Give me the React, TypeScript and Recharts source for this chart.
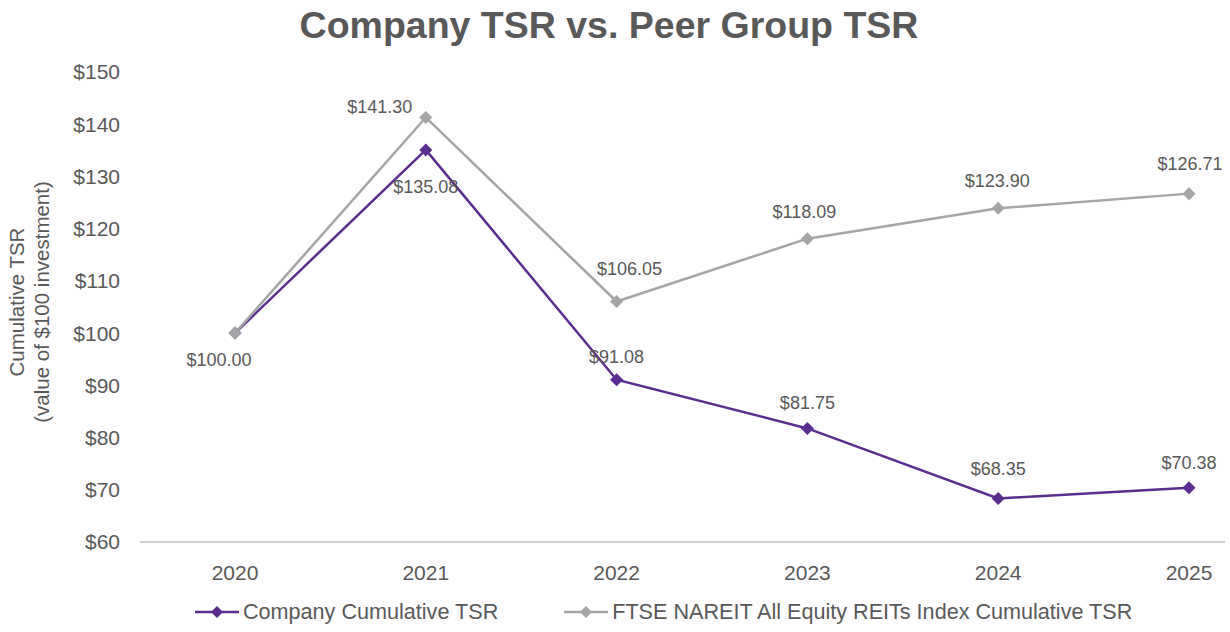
import { LineChart, Line, XAxis, YAxis, Legend, LabelList } from 'recharts'

const years = ['2020', '2021', '2022', '2023', '2024', '2025']
const companyTsr = [100.0, 135.08, 91.08, 81.75, 68.35, 70.38]
const peerTsr = [100.0, 141.3, 106.05, 118.09, 123.9, 126.71]
const yTicks = [60, 70, 80, 90, 100, 110, 120, 130, 140, 150]

const COLORS = {
  company: '#5b2d90', // purple
  peer: '#a5a5a5', // gray
  text: '#595959',
  axis: '#bfbfbf',
}

const FONT = '"Liberation Sans", Arial, sans-serif'

const data = years.map((year, i) => ({
  year,
  company: companyTsr[i],
  peer: peerTsr[i],
}))

// label offsets per point, tuned to the original layout
const companyOffsets = [
  [-16, 27],
  [0, 37],
  [0, -23],
  [0, -25],
  [0, -29],
  [0, -25],
]
const peerOffsets = [
  null,
  [-46, -10],
  [13, -33],
  [-3, -27],
  [-1, -27],
  [1, -30],
]

function diamond(color: string) {
  return (props: any) => {
    const { cx, cy, index } = props
    if (cx == null || cy == null) return <g key={`d-${index}`} />
    const r = 6.5
    return (
      <path
        key={`d-${index}`}
        d={`M${cx},${cy - r} L${cx + r},${cy} L${cx},${cy + r} L${cx - r},${cy} Z`}
        fill={color}
      />
    )
  }
}

function makeLabel(offsets: (number[] | null)[]) {
  return (props: any) => {
    const { x, y, value, index } = props
    const off = offsets[index]
    if (!off) return null
    return (
      <text
        x={x + off[0]}
        y={y + off[1]}
        textAnchor="middle"
        dominantBaseline="central"
        fill={COLORS.text}
        fontSize={18}
        fontFamily={FONT}
      >
        ${Number(value).toFixed(2)}
      </text>
    )
  }
}

function YLabel() {
  const cy = 302
  return (
    <g>
      <text
        transform={`translate(16, ${cy}) rotate(-90)`}
        textAnchor="middle"
        dominantBaseline="central"
        fill={COLORS.text}
        fontSize={20.5}
        fontFamily={FONT}
      >
        Cumulative TSR
      </text>
      <text
        transform={`translate(41, ${cy}) rotate(-90)`}
        textAnchor="middle"
        dominantBaseline="central"
        fill={COLORS.text}
        fontSize={20.5}
        fontFamily={FONT}
      >
        (value of $100 investment)
      </text>
    </g>
  )
}

function LegendItem({ color, label }: { color: string; label: string }) {
  return (
    <div style={{ display: 'flex', alignItems: 'center' }}>
      <svg width={44} height={14} style={{ marginRight: 4 }}>
        <line x1={0} y1={7} x2={44} y2={7} stroke={color} strokeWidth={2.5} />
        <path d="M22,1 L28,7 L22,13 L16,7 Z" fill={color} />
      </svg>
      <span>{label}</span>
    </div>
  )
}

const renderLegend = () => (
  <div
    style={{
      display: 'flex',
      gap: 66,
      paddingLeft: 195,
      height: 45,
      alignItems: 'center',
      paddingTop: 4,
      boxSizing: 'border-box',
      fontFamily: FONT,
      fontSize: 21.6,
      color: COLORS.text,
    }}
  >
    <LegendItem color={COLORS.company} label="Company Cumulative TSR" />
    <LegendItem color={COLORS.peer} label="FTSE NAREIT All Equity REITs Index Cumulative TSR" />
  </div>
)

export default function App() {
  return (
    <div style={{ position: 'absolute', left: 0, top: 0, width: 1230, height: 632, background: '#fff' }}>
      <div
        style={{
          position: 'absolute',
          top: 0,
          left: 0,
          width: 1218,
          textAlign: 'center',
          fontFamily: FONT,
          fontWeight: 'bold',
          fontSize: 37.5,
          lineHeight: '50px',
          color: COLORS.text,
        }}
      >
        Company TSR vs. Peer Group TSR
      </div>
      <LineChart
        width={1230}
        height={632}
        data={data}
        margin={{ top: 72, right: 5, bottom: 0, left: 0 }}
      >
        <XAxis
          dataKey="year"
          height={45}
          padding={{ left: 95, right: 36 }}
          tickLine={false}
          tickSize={0}
          tickMargin={23}
          axisLine={{ stroke: COLORS.axis, strokeWidth: 1.5 }}
          tick={{ fill: COLORS.text, fontSize: 21, fontFamily: FONT }}
        />
        <YAxis
          width={140}
          domain={[60, 150]}
          ticks={yTicks}
          interval={0}
          axisLine={false}
          tickLine={false}
          tickSize={0}
          tickMargin={20}
          tickFormatter={(v: number) => `$${v}`}
          tick={{ fill: COLORS.text, fontSize: 21, fontFamily: FONT }}
          label={<YLabel />}
        />
        <Legend verticalAlign="bottom" height={45} content={renderLegend} />
        <Line
          dataKey="company"
          stroke={COLORS.company}
          strokeWidth={2.5}
          dot={diamond(COLORS.company)}
          activeDot={false}
          isAnimationActive={false}
        >
          <LabelList dataKey="company" content={makeLabel(companyOffsets)} />
        </Line>
        <Line
          dataKey="peer"
          stroke={COLORS.peer}
          strokeWidth={2.5}
          dot={diamond(COLORS.peer)}
          activeDot={false}
          isAnimationActive={false}
        >
          <LabelList dataKey="peer" content={makeLabel(peerOffsets)} />
        </Line>
      </LineChart>
    </div>
  )
}
